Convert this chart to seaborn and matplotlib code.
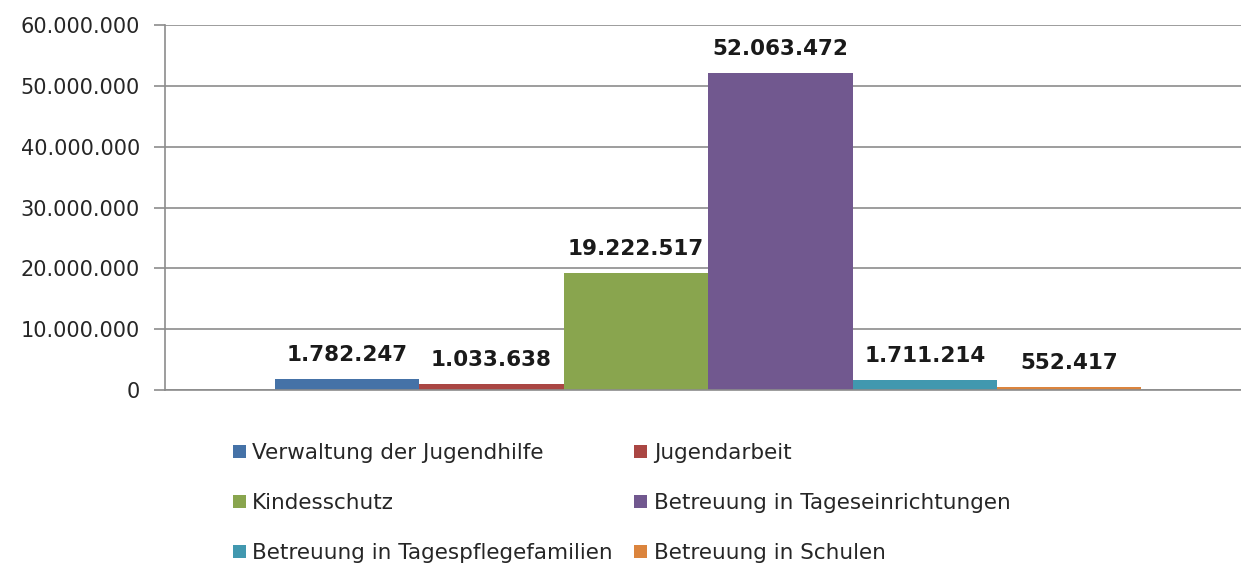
import seaborn as sns
import matplotlib.pyplot as plt
import matplotlib.ticker as mticker
from matplotlib.patches import Patch
import pandas as pd

# Data
categories = ["Verwaltung der Jugendhilfe", "Jugendarbeit", "Kindesschutz",
              "Betreuung in Tageseinrichtungen", "Betreuung in Tagespflegefamilien",
              "Betreuung in Schulen"]
values = [1782247, 1033638, 19222517, 52063472, 1711214, 552417]
colors = ["#4572A7", "#AA4643", "#89A54E", "#71588F", "#4198AF", "#DB843D"]

df = pd.DataFrame({"kategorie": categories, "betrag": values})

sns.set_style("white")
plt.rcParams['font.family'] = ['DejaVu Sans']

fig = plt.figure(figsize=(12.41, 5.67), dpi=100)
ax = fig.add_axes([0.133, 0.312, 0.867, 0.644])

sns.barplot(data=df, x="kategorie", y="betrag", hue="kategorie",
            palette=colors, width=1.0, legend=False, ax=ax, saturation=1,
            linewidth=0)

ax.set_ylim(0, 60000000)
ax.set_xlim(-1.26, 6.19)
ax.yaxis.set_major_locator(mticker.MultipleLocator(10000000))
ax.yaxis.set_major_formatter(
    mticker.FuncFormatter(lambda v, p: f"{int(v):,}".replace(",", ".")))
ax.grid(axis="y", color="#8c8c8c", linewidth=1.2)
ax.set_axisbelow(True)
ax.set_xlabel("")
ax.set_ylabel("")
ax.set_xticks([])
for s in ["top", "right"]:
    ax.spines[s].set_visible(False)
ax.spines["left"].set_color("#8c8c8c")
ax.spines["left"].set_linewidth(1.2)
ax.spines["bottom"].set_color("#8c8c8c")
ax.spines["bottom"].set_linewidth(1.2)
ax.tick_params(axis="y", length=8, width=1.2, color="#8c8c8c",
               labelsize=15, labelcolor="#262626", pad=10, left=True)

# Value labels above bars
for i, v in enumerate(values):
    ax.annotate(f"{v:,}".replace(",", "."), (i, v), xytext=(0, 10),
                textcoords="offset points", ha="center", va="bottom",
                fontsize=15.5, fontweight="bold", color="#1a1a1a")

# Legend: three rows of two entries
handles = [Patch(facecolor=c, edgecolor="none") for c in colors]
order = [0, 2, 4, 1, 3, 5]
fig.legend([handles[i] for i in order], [categories[i] for i in order],
           ncol=2, loc="upper left", bbox_to_anchor=(0.172, 0.253),
           frameon=False, fontsize=15.5, handlelength=0.6, handleheight=0.6,
           handletextpad=0.3, labelspacing=1.4, columnspacing=1.0,
           labelcolor="#262626")

fig.savefig("out.png", dpi=100)
